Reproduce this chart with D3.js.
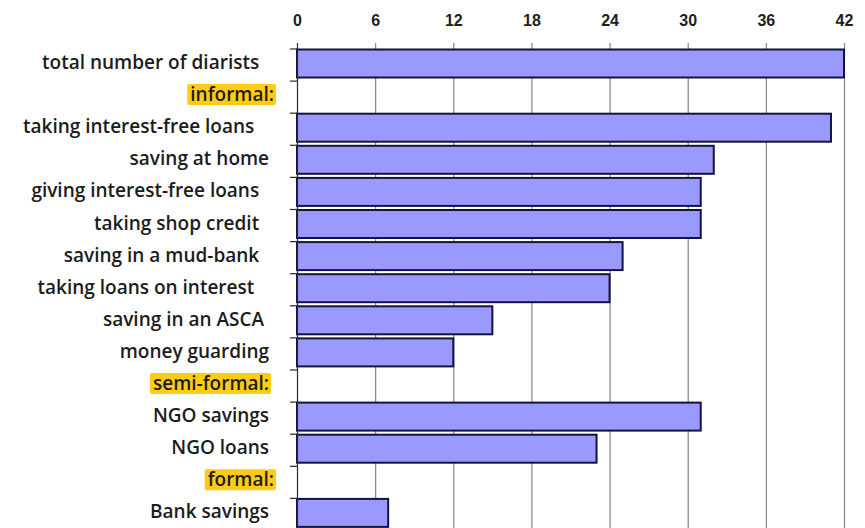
<!DOCTYPE html>
<html>
<head>
<meta charset="utf-8">
<script src="https://cdn.jsdelivr.net/npm/d3@7"></script>
<style>
  html, body { margin: 0; padding: 0; background: #fff; }
  svg { display: block; }
  .cat { white-space: pre; }
</style>
</head>
<body>
<svg id="chart" width="865" height="528"></svg>
<script>
// Rows from top to bottom; headings group the instruments.
const categories = [
  "total number of diarists   ",
  "informal:",
  "taking interest-free loans    ",
  "saving at home ",
  "giving interest-free loans   ",
  "taking shop credit   ",
  "saving in a mud-bank   ",
  "taking loans on interest    ",
  "saving in an ASCA  ",
  "money guarding ",
  "semi-formal: ",
  "NGO savings ",
  "NGO loans ",
  "formal:",
  "Bank savings "
];
// Number of diarists using each instrument (null for group headings).
const values = [42, null, 41, 32, 31, 31, 25, 24, 15, 12, null, 31, 23, null, 7];
const headings = ["informal:", "semi-formal: ", "formal:"];
const tickValues = [0, 6, 12, 18, 24, 30, 36, 42];

const rows = categories.map((c, i) => ({ label: c, value: values[i], heading: headings.includes(c), i }));

const svg = d3.select("#chart");
const plotLeft = 297, plotRight = 844, plotTop = 49, pitch = 32.1;

const x = d3.scaleLinear().domain([0, 42]).range([plotLeft, plotRight]);
const y = d3.scaleBand().domain(d3.range(rows.length))
  .range([plotTop, plotTop + pitch * rows.length]).paddingInner(0).paddingOuter(0);
const barH = 28;

// vertical gridlines, extending up as tick marks
svg.append("g")
  .selectAll("line")
  .data(tickValues.filter(t => t > 0))
  .join("line")
  .attr("x1", d => x(d) + 0.5).attr("x2", d => x(d) + 0.5)
  .attr("y1", plotTop - 6).attr("y2", 528)
  .attr("stroke", "#858585").attr("stroke-width", 1.2);

// top axis labels
const xAxis = d3.axisTop(x).tickValues(tickValues).tickSize(0).tickPadding(0);
const gx = svg.append("g").attr("transform", `translate(0,${plotTop - 23})`).call(xAxis);
gx.select(".domain").remove();
gx.selectAll("text")
  .attr("font-family", "'Liberation Sans Narrow', 'Arial Narrow', 'Liberation Sans', sans-serif")
  .attr("font-weight", "bold")
  .attr("font-size", 16)
  .attr("fill", "#1e1e1e")
  .attr("dy", "0");

// bars
svg.append("g")
  .selectAll("rect")
  .data(rows.filter(r => r.value != null))
  .join("rect")
  .attr("x", x(0))
  .attr("y", d => y(d.i) + 0.5)
  .attr("width", d => x(d.value) - x(0))
  .attr("height", barH)
  .attr("fill", "#9999ff")
  .attr("stroke", "#14143a")
  .attr("stroke-width", 2);

// left axis line with category ticks on band boundaries
svg.append("line")
  .attr("x1", plotLeft + 0.5).attr("x2", plotLeft + 0.5)
  .attr("y1", plotTop - 6).attr("y2", 528)
  .attr("stroke", "#2a2a2a").attr("stroke-width", 1.2);
svg.append("g")
  .selectAll("line")
  .data(d3.range(rows.length))
  .join("line")
  .attr("x1", plotLeft - 7).attr("x2", plotLeft)
  .attr("y1", d => y(d)).attr("y2", d => y(d))
  .attr("stroke", "#2a2a2a").attr("stroke-width", 1.2);

// category labels
const labels = svg.append("g")
  .selectAll("g")
  .data(rows)
  .join("g")
  .attr("transform", d => `translate(274,${y(d.i) + 20})`);

labels.append("text")
  .attr("class", "cat")
  .attr("text-anchor", "end")
  .attr("font-family", "'Open Sans', Lato, sans-serif")
  .attr("font-weight", 600)
  .attr("font-size", 19)
  .attr("fill", "#1c1c1c")
  .text(d => d.label);

// yellow highlight behind group headings
labels.filter(d => d.heading).each(function () {
  const g = d3.select(this);
  const t = g.select("text").node();
  const bb = t.getBBox();
  const w = t.getSubStringLength(0, t.textContent.trimEnd().length);
  g.insert("rect", "text")
    .attr("x", bb.x - 3).attr("y", bb.y + 3)
    .attr("width", w + 5).attr("height", bb.height - 5)
    .attr("rx", 2)
    .attr("fill", "#ffcc11");
});
</script>
</body>
</html>
